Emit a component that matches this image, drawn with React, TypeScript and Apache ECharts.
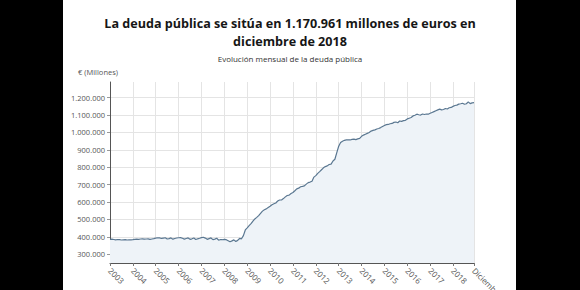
import React, { useEffect, useRef } from "react";
import * as echarts from "echarts";

// Monthly public debt, thousands of millions of euros (millones / 1000)
const years = [2003, 2004, 2005, 2006, 2007, 2008, 2009, 2010, 2011, 2012, 2013, 2014, 2015, 2016, 2017, 2018];

const debt2003 = [386, 387, 385, 383, 385, 384, 382, 383, 384, 382, 383, 382.8];
const debt2004 = [384, 386, 387, 386, 388, 389, 387, 388, 389, 386, 388, 389.9];
const debt2005 = [393, 395, 394, 391, 393, 395, 388, 390, 394, 387, 391, 393.5];
const debt2006 = [395, 396, 392, 387, 391, 394, 386, 389, 394, 385, 389, 392.2];
const debt2007 = [396, 398, 393, 386, 390, 394, 384, 387, 392, 381, 385, 383.8];
const debt2008 = [386, 384, 378, 372, 377, 383, 374, 380, 391, 389, 407, 439.8];
const debt2009 = [452, 465, 476, 490, 503, 512, 522, 535, 548, 556, 561, 568.7];
const debt2010 = [576, 585, 590, 595, 606, 612, 612, 620, 630, 638, 640, 649.3];
const debt2011 = [655, 665, 676, 680, 688, 690, 693, 703, 712, 715, 720, 743.5];
const debt2012 = [752, 765, 775, 786, 797, 804, 808, 816, 818, 836, 846, 884];
const debt2013 = [921, 942, 950, 955, 957, 958, 957, 960, 962, 959, 963, 966];
const debt2014 = [978, 985, 990, 995, 1000, 1008, 1012, 1015, 1020, 1023, 1028, 1034];
const debt2015 = [1040, 1045, 1046, 1050, 1052, 1058, 1060, 1056, 1066, 1064, 1068, 1070];
const debt2016 = [1078, 1082, 1086, 1095, 1099, 1105, 1102, 1100, 1106, 1103, 1106, 1105];
const debt2017 = [1110, 1115, 1120, 1125, 1130, 1134, 1130, 1132, 1138, 1135, 1142, 1144];
const debt2018 = [1150, 1155, 1157, 1163, 1165, 1168, 1162, 1165, 1176, 1166, 1170, 1170.961];

const debtByYear = [
  debt2003, debt2004, debt2005, debt2006, debt2007, debt2008, debt2009, debt2010,
  debt2011, debt2012, debt2013, debt2014, debt2015, debt2016, debt2017, debt2018,
];

const lastLabel = "Diciembre";
const titleLine1 = "La deuda pública se sitúa en 1.170.961 millones de euros en";
const titleLine2 = "diciembre de 2018";
const subtitleText = "Evolución mensual de la deuda pública";
const unitText = "€ (Millones)";

const months: string[] = [];
const values: number[] = [];
years.forEach((y, yi) => {
  debtByYear[yi].forEach((v, mi) => {
    months.push(`${y}-${String(mi + 1).padStart(2, "0")}`);
    values.push(Math.round(v * 1000));
  });
});

const fmt = (v: number) => String(v).replace(/\B(?=(\d{3})+(?!\d))/g, ".");
const isYearTick = (i: number) => i % 12 === 0 || i === months.length - 1;

export default function App() {
  const ref = useRef<HTMLDivElement>(null);

  useEffect(() => {
    if (!ref.current) return;
    const chart = echarts.init(ref.current, undefined, { renderer: "svg" });
    const font = "Open Sans";
    chart.setOption({
      animation: false,
      backgroundColor: "#ffffff",
      textStyle: { fontFamily: font },
      grid: { left: 110, right: 106, top: 82, bottom: 27, outerBoundsMode: "none", containLabel: false },
      xAxis: {
        type: "category",
        data: months,
        boundaryGap: false,
        axisLine: { lineStyle: { color: "#555555", width: 1 } },
        axisTick: { show: true, interval: (i: number) => isYearTick(i), length: 3, lineStyle: { color: "#777777" } },
        splitLine: { show: true, interval: (i: number) => isYearTick(i), lineStyle: { color: "#e4e4e4", width: 1 } },
        axisLabel: {
          interval: (i: number) => isYearTick(i),
          rotate: -45,
          fontSize: 8,
          color: "#555555",
          margin: 6,
          hideOverlap: false,
          formatter: (val: string, i: number) => (i === months.length - 1 ? lastLabel : val.slice(0, 4)),
        },
      },
      yAxis: {
        type: "value",
        min: 250000,
        max: 1290000,
        splitNumber: 10,
        axisLine: { show: true, lineStyle: { color: "#555555", width: 1 } },
        axisTick: { show: true, length: 3, lineStyle: { color: "#999999" } },
        splitLine: { show: true, showMinLine: false, showMaxLine: false, lineStyle: { color: "#e4e4e4", width: 1 } },
        axisLabel: {
          fontSize: 7.5,
          color: "#555555",
          margin: 5,
          showMinLabel: false,
          showMaxLabel: false,
          formatter: (v: number) => fmt(v),
        },
      },
      series: [
        {
          type: "line",
          data: values,
          showSymbol: false,
          symbol: "none",
          lineStyle: { color: "#5a7791", width: 1.2 },
          areaStyle: { color: "#eef3f8", origin: "start", opacity: 1 },
        },
      ],
      graphic: [
        {
          type: "text",
          x: 290,
          y: 23,
          style: {
            text: titleLine1,
            font: `bold 12.6px "${font}"`,
            fill: "#161616",
            textAlign: "center",
            textVerticalAlign: "middle",
          },
        },
        {
          type: "text",
          x: 290,
          y: 41,
          style: {
            text: titleLine2,
            font: `bold 12.6px "${font}"`,
            fill: "#161616",
            textAlign: "center",
            textVerticalAlign: "middle",
          },
        },
        {
          type: "text",
          x: 290,
          y: 58,
          style: {
            text: subtitleText,
            font: `8px "${font}"`,
            fill: "#333333",
            textAlign: "center",
            textVerticalAlign: "middle",
          },
        },
        {
          type: "text",
          x: 78,
          y: 72,
          style: {
            text: unitText,
            font: `7.5px "${font}"`,
            fill: "#555555",
            textAlign: "left",
            textVerticalAlign: "middle",
          },
        },
        { type: "rect", left: 0, top: 0, z: 100, shape: { width: 63, height: 290 }, style: { fill: "#000000" } },
        { type: "rect", left: 516, top: 0, z: 100, shape: { width: 64, height: 290 }, style: { fill: "#000000" } },
      ],
    });
    return () => chart.dispose();
  }, []);

  return <div ref={ref} style={{ position: "fixed", left: 0, top: 0, width: 580, height: 290 }} />;
}
